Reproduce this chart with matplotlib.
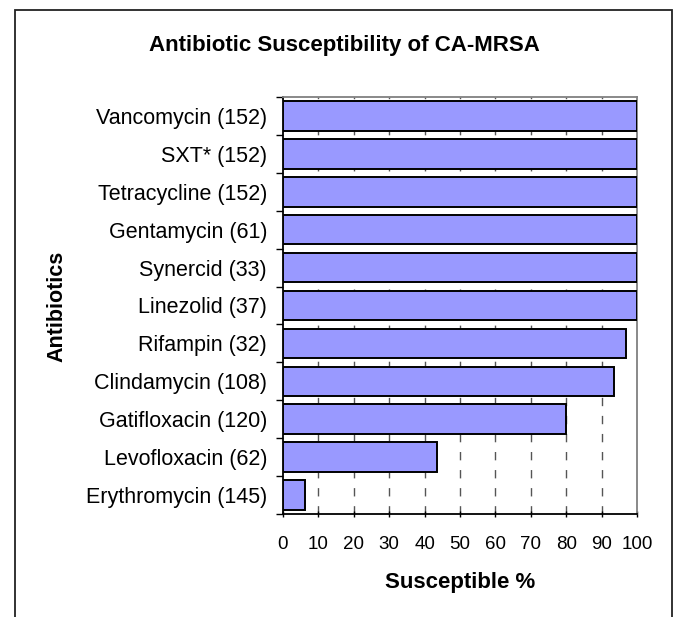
import matplotlib
matplotlib.use("Agg")
import matplotlib.pyplot as plt
from matplotlib.patches import Rectangle
from matplotlib.ticker import FixedLocator

plt.rcParams['font.family'] = ['Liberation Sans', 'DejaVu Sans']

categories = ["Vancomycin (152)", "SXT* (152)", "Tetracycline (152)", "Gentamycin (61)",
              "Synercid (33)", "Linezolid (37)", "Rifampin (32)", "Clindamycin (108)",
              "Gatifloxacin (120)", "Levofloxacin (62)", "Erythromycin (145)"]
susceptible = [100, 100, 100, 100, 100, 100, 96.9, 93.5, 80, 43.5, 6.2]
x_ticks = [0, 10, 20, 30, 40, 50, 60, 70, 80, 90, 100]

W, H = 673, 617
fig = plt.figure(figsize=(W / 100, H / 100), dpi=100)
fig.patch.set_facecolor("white")

# outer chart frame
fig.patches.append(Rectangle((15 / W, -0.02), (672 - 15) / W, 1 - 10 / H + 0.02,
                             transform=fig.transFigure, fill=False,
                             edgecolor="#222222", linewidth=1.3))

ax = fig.add_axes([283 / W, 1 - 514 / H, (637 - 283) / W, (514 - 97) / H])
ypos = list(range(len(categories)))
ax.barh(ypos, susceptible, height=0.78, color="#9999FF", edgecolor="black",
        linewidth=1.4, zorder=3)

ax.set_xlim(0, 100)
ax.set_ylim(len(categories) - 0.5, -0.5)
ax.set_xticks(x_ticks)
ax.set_xticklabels([str(t) for t in x_ticks], fontsize=13.5)
ax.set_yticks(ypos)
ax.set_yticklabels(categories, fontsize=15.5)
ax.yaxis.set_minor_locator(FixedLocator([i - 0.5 for i in range(len(categories) + 1)]))
ax.tick_params(axis="y", which="major", length=0, pad=11.5)
ax.tick_params(axis="y", which="minor", length=5, width=1, direction="out", color="black")
ax.tick_params(axis="x", which="major", length=5, width=1, direction="inout", pad=13, color="black")

for v in x_ticks[1:-1]:
    ax.axvline(v, color="#555555", linewidth=1, linestyle=(0, (6, 7)), zorder=1)

ax.spines["left"].set_color("black")
ax.spines["bottom"].set_color("black")
ax.spines["left"].set_linewidth(1.3)
ax.spines["bottom"].set_linewidth(1.3)
ax.spines["top"].set_color("#808080")
ax.spines["right"].set_color("#808080")
ax.spines["top"].set_linewidth(1.3)
ax.spines["right"].set_linewidth(1.3)

ax.set_xlabel("Susceptible %", fontsize=16, fontweight="bold", labelpad=14)
fig.text(57 / W, 1 - 306 / H, "Antibiotics", rotation=90, fontsize=15.5,
         fontweight="bold", ha="center", va="center")
fig.text(344 / W, 1 - 45 / H, "Antibiotic Susceptibility of CA-MRSA", fontsize=16,
         fontweight="bold", ha="center", va="center")

fig.savefig("out.png", dpi=100)
